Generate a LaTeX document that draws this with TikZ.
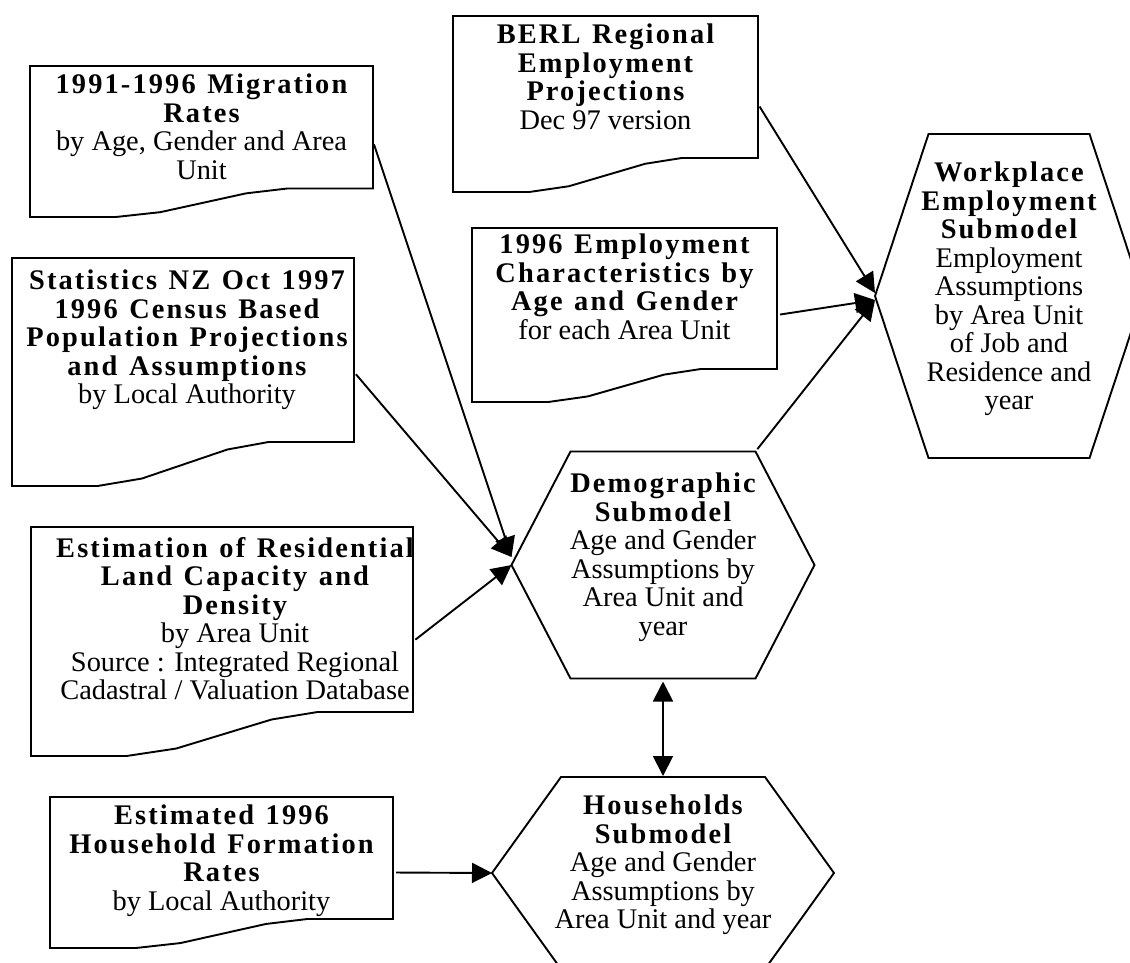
\documentclass[tikz,border=0pt]{standalone}
\usepackage{fontspec}
\setmainfont{Liberation Serif}
\newfontfamily\spaced[LetterSpace=7.5, WordSpace=1.25]{Liberation Serif}
\usepackage{tikz}
\usetikzlibrary{positioning,arrows.meta,calc}

\newcommand\boxfont{\fontsize{28.4pt}{28.5pt}\selectfont}
\newcommand\hd[1]{{\spaced\bfseries #1}}

% contour "document" : bord droit plus court, bas ondule
\newcommand\docoutline[2]{%
  \draw[outline] (#1.north west) -- (#1.north east)
    -- ($(#1.south east)+(0,-#2)$)
    -- ($(#1.south west)!0.75!(#1.south east)+(0,-#2)$)
    -- ($(#1.south west)!0.63!(#1.south east)+(0,-0.83*#2)$)
    -- ($(#1.south west)!0.38!(#1.south east)+(0,-0.17*#2)$)
    -- ($(#1.south west)!0.25!(#1.south east)$)
    -- (#1.south west) -- cycle;}
% contour hexagonal, coins en retrait de #2
\newcommand\hexoutline[2]{%
  \draw[outline] (#1.west) -- ($(#1.north west)+(#2,0)$) -- ($(#1.north east)+(-#2,0)$)
    -- (#1.east) -- ($(#1.south east)+(-#2,0)$) -- ($(#1.south west)+(#2,0)$) -- cycle;
  \coordinate (#1-ne) at ($(#1.north east)+(-#2,0)$);}

\begin{document}
\begin{tikzpicture}[
    x=1pt, y=-1pt,
    every node/.style={font=\boxfont, align=center, inner sep=0pt},
    frame/.style={inner sep=0pt, outer sep=0pt, anchor=north west},   % cadre d'un document
    hexframe/.style={inner sep=0pt, outer sep=0pt, anchor=center},    % cadre d'un sous-modele
    doctext/.style={anchor=north},
    outline/.style={line width=1.9pt, line join=miter},
    feed/.style={line width=1.9pt, -{Triangle[length=20pt,width=20pt]}, shorten <=3pt},
    twoway/.style={line width=1.9pt, {Triangle[length=20pt,width=20pt]}-{Triangle[length=20pt,width=20pt]},
                   shorten <=3pt, shorten >=1pt}
  ]
  \useasboundingbox (0,0) rectangle (1130,962);

  % ============ les sources (documents) ==================================
  \node[frame, minimum width=343pt, minimum height=151pt] (mig) at (30,66) {};
  \docoutline{mig}{28.5}
  \node[doctext] (mig-txt) at ([yshift=-8pt]mig.north)
    {\hd{1991-1996 Migration}\\ \hd{Rates}\\ by Age, Gender and Area\\ Unit};

  \node[frame, minimum width=342pt, minimum height=228pt] (stat) at (12,258) {};
  \docoutline{stat}{44}
  \begin{scope}
    \clip (stat.north west) rectangle (stat.south east);
    \node[doctext] (stat-txt) at ([xshift=4pt,yshift=-12pt]stat.north)
      {\hd{Statistics NZ Oct 1997}\\ \hd{1996 Census Based}\\ \hd{Population Projections}\\
       \hd{and Assumptions}\\ by Local Authority};
  \end{scope}

  \node[frame, minimum width=382pt, minimum height=229pt] (est) at (31,527) {};
  \docoutline{est}{44}
  \begin{scope}
    \clip (est.north west) rectangle (est.south east);
    \node[doctext] (est-txt) at ([xshift=13pt,yshift=-10pt]est.north)
      {\hd{Estimation of Residential}\\ \hd{Land Capacity and}\\ \hd{Density}\\ by Area Unit\\
       Source : Integrated Regional\\ Cadastral / Valuation Database};
  \end{scope}

  \node[frame, minimum width=343pt, minimum height=151pt] (hhf) at (50,797) {};
  \docoutline{hhf}{29}
  \node[doctext] (hhf-txt) at ([yshift=-8pt]hhf.north)
    {\hd{Estimated 1996}\\ \hd{Household Formation}\\ \hd{Rates}\\ by Local Authority};

  \node[frame, minimum width=305pt, minimum height=176pt] (berl) at (453,16) {};
  \docoutline{berl}{34}
  \node[doctext] (berl-txt) at ([yshift=-8pt]berl.north)
    {\hd{BERL Regional}\\ \hd{Employment}\\ \hd{Projections}\\ Dec 97 version};

  \node[frame, minimum width=305pt, minimum height=174pt] (emp) at (472,228) {};
  \docoutline{emp}{33}
  \node[doctext] (emp-txt) at ([yshift=-6pt]emp.north)
    {\hd{1996 Employment}\\ \hd{Characteristics by}\\ \hd{Age and Gender}\\ for each Area Unit};

  % ============ les sous-modeles (hexagones) =============================
  \node[hexframe, minimum width=303pt, minimum height=227pt] (demo) at (663,565) {};
  \hexoutline{demo}{59}
  \node (demo-txt) at ([yshift=8pt]demo.center)
    {\hd{Demographic}\\ \hd{Submodel}\\ Age and Gender\\ Assumptions by\\ Area Unit and\\ year};

  \node[hexframe, minimum width=268pt, minimum height=324pt] (work) at (1009,296) {};
  \hexoutline{work}{53.5}
  \node (work-txt) at ([yshift=7pt]work.center)
    {\hd{Workplace}\\ \hd{Employment}\\ \hd{Submodel}\\ Employment\\ Assumptions\\ by Area Unit\\
     of Job and\\ Residence and\\ year};

  \node[hexframe, minimum width=342pt, minimum height=192pt] (hh) at (663,873) {};
  \hexoutline{hh}{69}
  \node (hh-txt) at ([yshift=8pt]hh.center)
    {\hd{Households}\\ \hd{Submodel}\\ Age and Gender\\ Assumptions by\\ Area Unit and year};

  % ============ les flux ==================================================
  \draw[feed] (mig.east)  -- ([yshift=8pt]demo.west);
  \draw[feed] (stat.east) -- ([yshift=8pt]demo.west);
  \draw[feed] (est.east)  -- (demo.west);
  \draw[feed] (hhf.east)  -- (hh.west);
  \draw[feed] (berl.east) -- ([yshift=3pt]work.west);
  \draw[feed] (emp.east)  -- ([yshift=-4pt]work.west);
  \draw[feed] (demo-ne)   -- ([yshift=-4pt]work.west);
  \draw[twoway] (demo.south) -- (hh.north);

\end{tikzpicture}
\end{document}
